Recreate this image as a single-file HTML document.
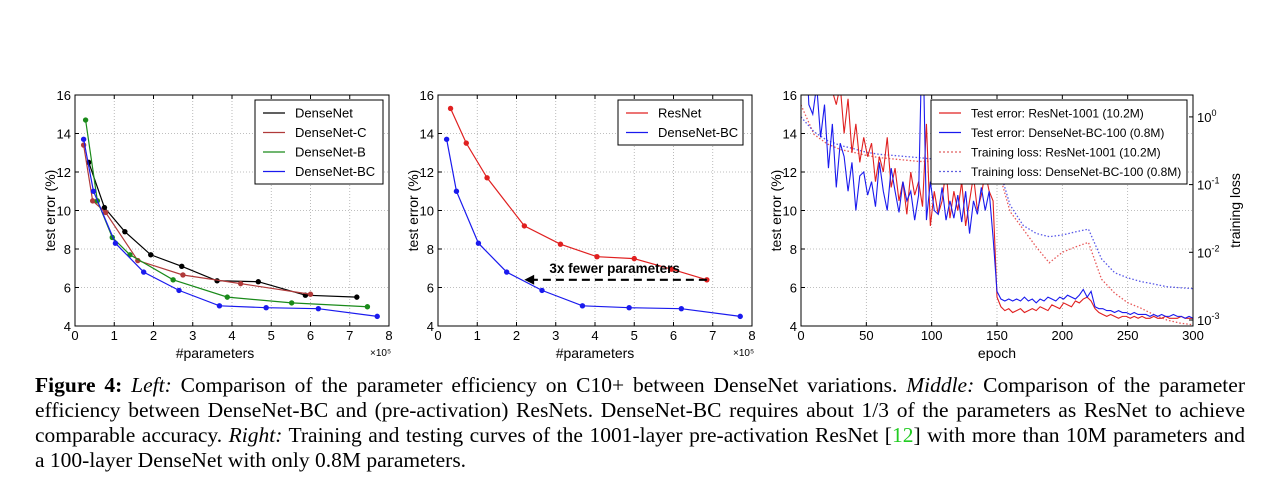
<!DOCTYPE html>
<html><head><meta charset="utf-8">
<style>
body{margin:0;background:#fff;width:1280px;height:493px;overflow:hidden;position:relative;font-family:"Liberation Sans",sans-serif}
svg{position:absolute;left:0;top:0}
#cap{position:absolute;left:35px;top:373px;width:1210px;font-family:"Liberation Serif",serif;font-size:21.5px;line-height:25px;color:#000}
#cap div{text-align:justify;text-align-last:justify;white-space:nowrap;height:25px;word-spacing:-0.6px}
#cap div.last{text-align-last:left;word-spacing:0}
#cap b{font-weight:bold}
.g{color:#2c2}
</style></head><body>
<svg id="s" width="1280" height="493"></svg>
<div id="cap">
<div><b>Figure 4:</b> <i>Left:</i> Comparison of the parameter efficiency on C10+ between DenseNet variations. <i>Middle:</i> Comparison of the parameter</div>
<div>efficiency between DenseNet-BC and (pre-activation) ResNets. DenseNet-BC requires about 1/3 of the parameters as ResNet to achieve</div>
<div>comparable accuracy. <i>Right:</i> Training and testing curves of the 1001-layer pre-activation ResNet [<span class="g">12</span>] with more than 10M parameters and</div>
<div class="last">a 100-layer DenseNet with only 0.8M parameters.</div>
</div>
<script>
// Left chart data (x in 1e5 params, y test error %)
const dnX=[0.35,0.75,1.27,1.93,2.72,3.62,4.67,5.87,7.18];
const dnY=[12.5,10.15,8.9,7.7,7.1,6.35,6.3,5.6,5.5];
const dncX=[0.22,0.45,0.78,1.6,2.75,4.22,6.0];
const dncY=[13.4,10.5,9.9,7.4,6.65,6.2,5.65];
const dnbX=[0.27,0.57,0.95,1.4,2.5,3.88,5.52,7.45];
const dnbY=[14.7,10.5,8.6,7.7,6.4,5.5,5.2,5.0];
const bcX=[0.22,0.47,1.03,1.75,2.65,3.68,4.87,6.2,7.7];
const bcY=[13.7,11.0,8.3,6.8,5.85,5.05,4.95,4.9,4.5];
const resX=[0.32,0.72,1.25,2.2,3.12,4.05,5.0,5.95,6.85];
const resY=[15.3,13.5,11.7,9.2,8.25,7.6,7.5,6.95,6.4];
const xTicks=[0,1,2,3,4,5,6,7,8];
const yTicks=[4,6,8,10,12,14,16];
// Right chart: test error every 3 epochs
const resErr=[20,19,18,18,17.5,17,17,16.5,16.2,15.5,16.5,14,15.8,13,14.5,12.5,13.8,12.8,13.5,11.5,12.8,12,13.8,11.2,12.2,10.5,11.5,9.8,12,10.8,11.5,10.2,14.5,9.2,11,9.8,10.5,12.2,9.6,11,10,11.5,9.2,10.5,11.8,10,10.8,12,11,10.5,5.5,5,4.8,4.9,4.7,4.8,4.9,4.7,4.8,4.9,4.8,5,4.9,4.8,5.1,5,4.9,5.2,5.1,5,5.3,5.2,5.4,5.5,5.3,4.9,4.7,4.6,4.5,4.6,4.5,4.4,4.5,4.5,4.4,4.5,4.4,4.5,4.4,4.4,4.5,4.4,4.4,4.5,4.4,4.4,4.4,4.5,4.4,4.4,4.4];
const dnErr=[20,20,15.5,15,16.5,13.8,15.5,12.2,14.5,11.2,13.5,12.8,11,12.5,10,11.8,12,10.8,11.5,10.2,12.5,11,10,12.2,11,9.9,11.5,10.5,11,9.5,10.8,20,9.5,11.5,10,9.8,11.2,9.5,10.5,9.6,10.8,9.4,11,8.8,10.5,9.8,11.2,10,11,8.6,5.8,5.4,5.3,5.4,5.3,5.4,5.3,5.5,5.3,5.4,5.2,5.4,5.3,5.5,5.4,5.3,5.5,5.4,5.6,5.5,5.4,5.6,5.9,5.5,5.8,5.0,4.9,4.9,4.8,4.8,4.7,4.8,4.7,4.7,4.6,4.7,4.6,4.6,4.6,4.5,4.6,4.5,4.6,4.5,4.5,4.6,4.5,4.5,4.4,4.5,4.4];
// training loss every 10 epochs
const resLoss=[1.5,0.55,0.4,0.33,0.3,0.27,0.25,0.24,0.23,0.22,0.22,0.21,0.21,0.2,0.2,0.19,0.04,0.022,0.012,0.007,0.010,0.012,0.014,0.004,0.0025,0.0018,0.0015,0.0012,0.001,0.0009,0.00085];
const dnLoss=[1.0,0.6,0.45,0.38,0.34,0.3,0.28,0.27,0.26,0.25,0.24,0.24,0.23,0.23,0.22,0.22,0.05,0.025,0.019,0.017,0.018,0.02,0.022,0.008,0.005,0.0042,0.0037,0.0034,0.0031,0.003,0.0029];
const epTicks=[0,50,100,150,200,250,300];
const logTicks=[0,-1,-2,-3];

const S=document.getElementById('s');const NS='http://www.w3.org/2000/svg';
function el(t,a,p){const e=document.createElementNS(NS,t);for(const k in a)e.setAttribute(k,a[k]);(p||S).appendChild(e);return e;}
function txt(x,y,s,a,p){const e=el('text',Object.assign({x:x,y:y,'font-size':13,'font-family':'Liberation Sans, sans-serif'},a||{}),p);e.textContent=s;return e;}
const T=95,B=326;
function axes(L,R,xs,xmin,xmax,name){
  const g=el('g',{});
  
  
  const sx=v=>L+(v-xmin)/(xmax-xmin)*(R-L), sy=v=>B-(v-4)/12*(B-T);
  xs.forEach(v=>{el('line',{x1:sx(v),x2:sx(v),y1:T,y2:B,stroke:'#aaa','stroke-dasharray':'1,2','stroke-width':0.8},g);
    el('line',{x1:sx(v),x2:sx(v),y1:B,y2:B-4,stroke:'#000'},g);el('line',{x1:sx(v),x2:sx(v),y1:T,y2:T+4,stroke:'#000'},g);
    const t=txt(sx(v),B+14,String(v),{'text-anchor':'middle'},g);});
  yTicks.forEach(v=>{el('line',{x1:L,x2:R,y1:sy(v),y2:sy(v),stroke:'#aaa','stroke-dasharray':'1,2','stroke-width':0.8},g);
    el('line',{x1:L,x2:L+4,y1:sy(v),y2:sy(v),stroke:'#000'},g);
    const t=txt(L-4,sy(v)+5,String(v),{'text-anchor':'end'},g);});
  const yl=txt(0,0,'test error (%)',{'text-anchor':'middle','font-size':14,transform:`translate(${L-20},${(T+B)/2}) rotate(-90)`},g);
  
  return {g,sx,sy,L,R};
}
function frame(a){el('rect',{x:a.L,y:T,width:a.R-a.L,height:B-T,fill:'none',stroke:'#000','stroke-width':1},a.g);}
function series(a,X,Y,c,name){
  const g=el('g',{},a.g);
  
  
  el('polyline',{points:X.map((x,i)=>a.sx(x)+','+a.sy(Y[i])).join(' '),fill:'none',stroke:c,'stroke-width':1.2},g);
  X.forEach((x,i)=>el('circle',{cx:a.sx(x),cy:a.sy(Y[i]),r:2.7,fill:c},g));
}
function legend(a,x,y,w,items){
  const g=el('g',{},a.g);
  
  
  el('rect',{x:x,y:y,width:w,height:items.length*19.5+6,fill:'#fff',stroke:'#000'},g);
  items.forEach((it,i)=>{const yy=y+13+i*19.5;
    el('line',{x1:x+8,x2:x+30,y1:yy,y2:yy,stroke:it[1],'stroke-width':1.2,'stroke-dasharray':it[2]||'none'},g);
    const t=txt(x+40,yy+4.5,it[0],{'font-size':it[3]||13},g);});
}
// Left
const A=axes(75,389,xTicks,0,8,'left-chart');
series(A,dnX,dnY,'#000','series-densenet');
series(A,dncX,dncY,'#b03a3a','series-densenet-c');
series(A,dnbX,dnbY,'#1a8a1a','series-densenet-b');
series(A,bcX,bcY,'#1a1aee','series-densenet-bc');
frame(A);legend(A,255,100,128,[['DenseNet','#000'],['DenseNet-C','#b03a3a'],['DenseNet-B','#1a8a1a'],['DenseNet-BC','#1a1aee']]);
txt(215,358,'#parameters',{'text-anchor':'middle','font-size':14},A.g);
txt(370,356,'×10⁵',{'font-size':10},A.g);
// Middle
const M=axes(438,752,xTicks,0,8,'middle-chart');
series(M,resX,resY,'#e02020','series-resnet');
series(M,bcX,bcY,'#1a1aee','series-densenet-bc');
el('line',{x1:M.sx(resX[8]),x2:M.sx(2.4),y1:M.sy(6.4),y2:M.sy(6.4),stroke:'#000','stroke-width':2.2,'stroke-dasharray':'8,5'},M.g);
el('polygon',{points:`${M.sx(2.2)},${M.sy(6.4)} ${M.sx(2.45)},${M.sy(6.4)-5} ${M.sx(2.45)},${M.sy(6.4)+5}`,fill:'#000'},M.g);
txt(M.sx(4.5),M.sy(6.95)+4,'3x fewer parameters',{'text-anchor':'middle','font-weight':'bold','font-size':13.5},M.g);
frame(M);legend(M,618,100,125,[['ResNet','#e02020'],['DenseNet-BC','#1a1aee']]);
txt(595,358,'#parameters',{'text-anchor':'middle','font-size':14},M.g);
txt(733,356,'×10⁵',{'font-size':10},M.g);
// Right
const R=axes(801,1193,epTicks,0,300,'right-chart');
const ly=v=>320-( Math.log10(v)+3)*67.7;
const clip=el('clipPath',{id:'cp'});el('rect',{x:801,y:T,width:392,height:B-T},clip);
const rg=el('g',{'clip-path':'url(#cp)'},R.g);


function lossLine(arr,c,n){const p=el('polyline',{points:arr.map((v,i)=>R.sx(i*10)+','+ly(v)).join(' '),fill:'none',stroke:c,'stroke-width':1.3,'stroke-dasharray':'1.5,2',opacity:0.75},rg);}
function errLine(arr,c,n){const p=el('polyline',{points:arr.map((v,i)=>R.sx(i*3)+','+R.sy(v)).join(' '),fill:'none',stroke:c,'stroke-width':1.1},rg);}
lossLine(resLoss,'#e02020','loss-resnet');lossLine(dnLoss,'#2020e0','loss-densenet');
errLine(resErr,'#e02020','error-resnet');errLine(dnErr,'#1a1aee','error-densenet');
logTicks.forEach(v=>{const y=ly(Math.pow(10,v));el('line',{x1:1189,x2:1193,y1:y,y2:y,stroke:'#000'},R.g);
  const t=txt(1197,y+5,'10',{'font-size':13},R.g);const s=el('tspan',{dy:-6,'font-size':9},t);s.textContent=String(v);
  });
txt(0,0,'training loss',{'text-anchor':'middle','font-size':14,transform:`translate(1240,${(T+B)/2}) rotate(-90)`},R.g);
frame(R);legend(R,931,100,256,[['Test error: ResNet-1001 (10.2M)','#e02020',null,12],['Test error: DenseNet-BC-100 (0.8M)','#1a1aee',null,12],['Training loss: ResNet-1001 (10.2M)','#e06060','2,2',12],['Training loss: DenseNet-BC-100 (0.8M)','#6060e0','2,2',12]]);
txt(997,358,'epoch',{'text-anchor':'middle','font-size':14},R.g);
</script>
</body></html>
